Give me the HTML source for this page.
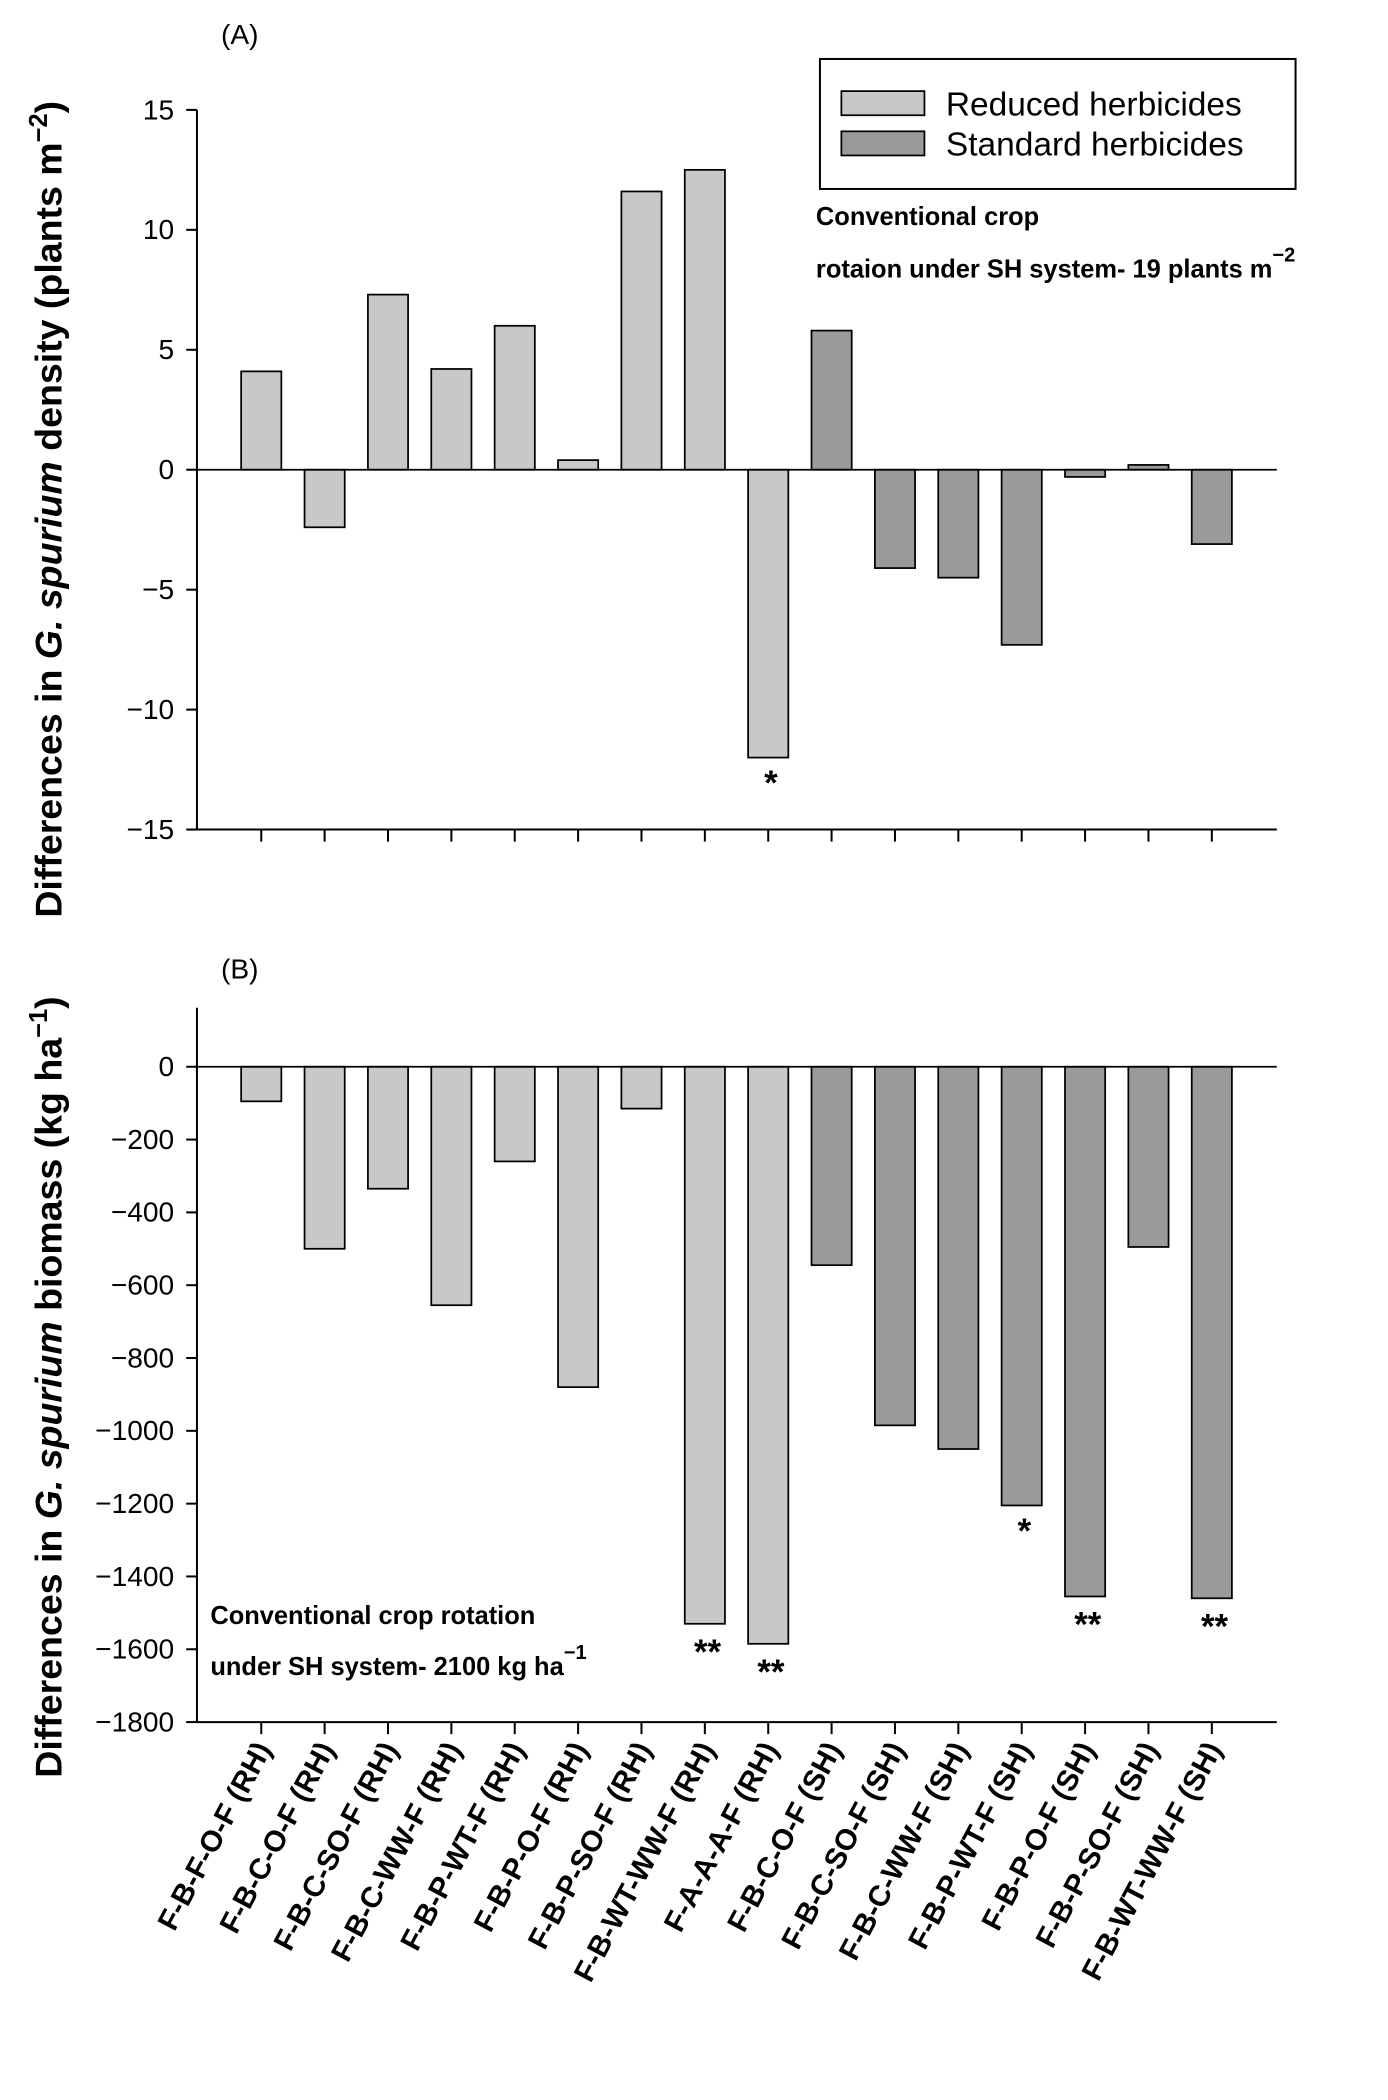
<!DOCTYPE html>
<html><head><meta charset="utf-8">
<style>
html,body{margin:0;padding:0;background:#fff;}
svg{display:block;font-family:"Liberation Sans",Arial,sans-serif;}
</style></head>
<body>
<svg id="chart" width="1388" height="2100" viewBox="0 0 1036 1567" preserveAspectRatio="none" xmlns="http://www.w3.org/2000/svg">
<rect x="0" y="0" width="1036" height="1567" fill="#fff"/>
<text x="165" y="33" font-size="21">(A)</text>
<text x="165" y="730" font-size="21">(B)</text>
<g id="gA"></g>
<g id="gB"></g>
<g>
<rect x="612" y="44" width="355" height="97" fill="#fff" stroke="#000" stroke-width="1.5"/>
<rect x="628" y="68" width="62" height="18" fill="#c8c8c8" stroke="#000" stroke-width="1.3"/>
<text x="706" y="86" font-size="25">Reduced herbicides</text>
<rect x="628" y="98" width="62" height="18" fill="#9a9a9a" stroke="#000" stroke-width="1.3"/>
<text x="706" y="116" font-size="25">Standard herbicides</text>
</g>
<text x="609" y="168" font-size="19" font-weight="bold">Conventional crop</text>
<text x="609" y="207" font-size="19" font-weight="bold">rotaion under SH system- 19 plants m<tspan dy="-12" font-size="15">−2</tspan></text>
<text x="157" y="1212" font-size="19" font-weight="bold">Conventional crop rotation</text>
<text x="157" y="1250" font-size="19" font-weight="bold">under SH system- 2100 kg ha<tspan dy="-12" font-size="15">−1</tspan></text>
<text transform="translate(46,380) rotate(-90)" text-anchor="middle" font-size="28" font-weight="bold">Differences in <tspan font-style="italic">G. spurium</tspan>  density (plants m<tspan dy="-11" font-size="19">−2</tspan><tspan dy="11">)</tspan></text>
<text transform="translate(46,1035) rotate(-90)" text-anchor="middle" font-size="28" font-weight="bold">Differences in <tspan font-style="italic">G. spurium</tspan> biomass (kg ha<tspan dy="-11" font-size="19">−1</tspan><tspan dy="11">)</tspan></text>
</svg>
<script>
const categories = ["F-B-F-O-F (RH)","F-B-C-O-F (RH)","F-B-C-SO-F  (RH)","F-B-C-WW-F (RH)","F-B-P-WT-F (RH)","F-B-P-O-F (RH)","F-B-P-SO-F (RH)","F-B-WT-WW-F (RH)","F-A-A-A-F (RH)","F-B-C-O-F (SH)","F-B-C-SO-F  (SH)","F-B-C-WW-F  (SH)","F-B-P-WT-F (SH)","F-B-P-O-F  (SH)","F-B-P-SO-F  (SH)","F-B-WT-WW-F  (SH)"];
const systems = ["RH","RH","RH","RH","RH","RH","RH","RH","RH","SH","SH","SH","SH","SH","SH","SH"];
const densityValues = [4.1,-2.4,7.3,4.2,6.0,0.4,11.6,12.5,-12.0,5.8,-4.1,-4.5,-7.3,-0.3,0.2,-3.1];
const densitySig = ["","","","","","","","","*","","","","","","",""];
const densityTicks = [15,10,5,0,-5,-10,-15];
const biomassValues = [-95,-500,-335,-655,-260,-880,-115,-1530,-1585,-545,-985,-1050,-1205,-1455,-495,-1460];
const biomassSig = ["","","","","","","","**","**","","","","*","**","","**"];
const biomassTicks = [0,-200,-400,-600,-800,-1000,-1200,-1400,-1600,-1800];

const NS="http://www.w3.org/2000/svg";
function mk(parent,tag,attrs){const e=document.createElementNS(NS,tag);for(const k in attrs)e.setAttribute(k,attrs[k]);parent.appendChild(e);return e;}
const xLeft=147, xRight=953;
function xCenter(i){return 195+i*47.3;}
const barW=30;
const colors={RH:"#c8c8c8",SH:"#9a9a9a"};

function panel(g,vals,sig,ticks,vmax,vmin,yTop,yBot,axTop,name){
  const y=v=>yTop+(vmax-v)/(vmax-vmin)*(yBot-yTop);
  const y0=y(0);
  const ax=mk(g,"line",{x1:xLeft,y1:axTop,x2:xLeft,y2:yBot,stroke:"#000","stroke-width":1.5});
  
  
  ticks.forEach(t=>{
    const ty=y(t);
    const tl=mk(g,"line",{x1:xLeft-8,y1:ty,x2:xLeft,y2:ty,stroke:"#000","stroke-width":1.5});
    
    
    const tx=mk(g,"text",{x:xLeft-17,y:ty+7,"text-anchor":"end","font-size":21});
    tx.textContent=(t<0?"\u2212"+(-t):String(t));
    
    
  });
  const bx=mk(g,"line",{x1:xLeft,y1:yBot,x2:xRight,y2:yBot,stroke:"#000","stroke-width":1.5});
  
  
  vals.forEach((v,i)=>{
    const cx=xCenter(i);
    const tk=mk(g,"line",{x1:cx,y1:yBot,x2:cx,y2:yBot+9,stroke:"#000","stroke-width":1.5});
    
    
    const top=Math.min(y(v),y0), h=Math.abs(y(v)-y0);
    const r=mk(g,"rect",{x:cx-barW/2,y:top,width:barW,height:h,fill:colors[systems[i]],stroke:"#000","stroke-width":1.3});
    
    
    if(sig[i]){
      const s=mk(g,"text",{x:cx+2,y:y(v)+(sig[i].length>1?30:28),"text-anchor":"middle","font-size":26,"font-weight":"bold"});
      s.textContent=sig[i];
      
      
    }
  });
  const z=mk(g,"line",{x1:xLeft,y1:y0,x2:xRight,y2:y0,stroke:"#000","stroke-width":1.3});
  
  
}
panel(document.getElementById("gA"),densityValues,densitySig,densityTicks,15,-15,82,619,82,"density");
panel(document.getElementById("gB"),biomassValues,biomassSig,biomassTicks,0,-1800,796,1285,752,"biomass");

const gB=document.getElementById("gB");
categories.forEach((c,i)=>{
  const cx=xCenter(i)+8;
  const t=mk(gB,"text",{transform:"translate("+cx+",1305) rotate(-62)","text-anchor":"end","font-size":22,"font-weight":"bold"});
  t.textContent=c;
  
  
});
</script>
</body></html>
